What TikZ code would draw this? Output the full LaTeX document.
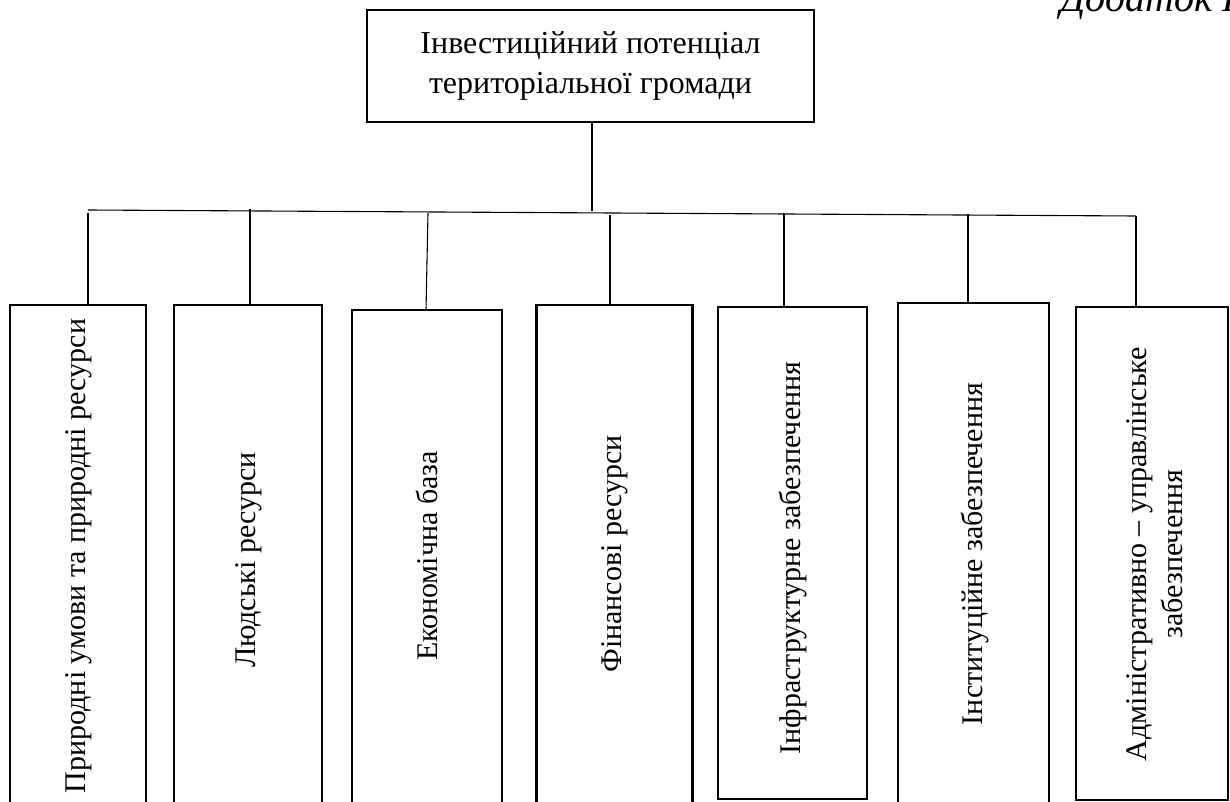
\documentclass[tikz,border=0pt]{standalone}
\usepackage{fontspec}
\setmainfont{Liberation Serif}
\usetikzlibrary{calc}
\begin{document}
\begin{tikzpicture}[x=1pt,y=-1pt,
  box/.style={draw, line width=2.2pt, inner sep=0pt},
  conn/.style={line width=1.1pt},
  vlabel/.style={rotate=90, inner sep=0pt, align=center, font=\fontsize{30}{36}\selectfont}]
\useasboundingbox (0,0) rectangle (1230,802);

% top box
\node[box, minimum width=447pt, minimum height=112pt, align=center,
      font=\fontsize{32}{40}\selectfont] (top) at (590.5,66)
      {Інвестиційний потенціал\\територіальної громади};

% appendix caption (cut by the top edge, as in the source)
\node[anchor=base west, inner sep=0pt, font=\fontsize{40}{44}\selectfont\itshape] (app) at (1060,12) {Додаток Б};

% bottom boxes
\node[box, minimum width=136pt, minimum height=525pt] (b1) at (78,567.5) {};
\node[box, minimum width=148pt, minimum height=525pt] (b2) at (248,567.5) {};
\node[box, minimum width=150pt, minimum height=520pt] (b3) at (427,570) {};
\node[box, minimum width=156pt, minimum height=525pt] (b4) at (614.5,567.5) {};
\node[box, minimum width=149pt, minimum height=492pt] (b5) at (792.5,553) {};
\node[box, minimum width=151pt, minimum height=527pt] (b6) at (973.5,566.5) {};
\node[box, minimum width=152pt, minimum height=493pt] (b7) at (1152,553.5) {};

% labels
\node[vlabel] (l1) at (79,556) {Природні умови та природні ресурси};
\node[vlabel] (l2) at (249,560) {Людські ресурси};
\node[vlabel] (l3) at (427,556) {Економічна база};
\node[vlabel] (l4) at (615,554) {Фінансові ресурси};
\node[vlabel] (l5) at (793,558) {Інфраструктурне забезпечення};
\node[vlabel] (l6) at (975,554) {Інституційне забезпечення};
\node[vlabel] (l7) at (1155,554) {Адміністративно – управлінське\\забезпечення};

% connectors
\coordinate (stem) at (592,211);
\coordinate (busL) at (88,210);
\coordinate (busR) at (1136,216);
\draw[conn] (top.south -| stem) -- (stem);
\draw[conn] (busL) -- (busR);

\coordinate (d1) at (88,213);
\coordinate (d2) at (250,209);
\coordinate (d3) at (428,213);
\coordinate (d3b) at (426,310);
\coordinate (d4) at (610,215);
\coordinate (d5) at (784,213);
\coordinate (d6) at (968,214);
\coordinate (d7) at (1136,216);
\draw[conn] (d1) -- (d1 |- b1.north);
\draw[conn] (d2) -- (d2 |- b2.north);
\draw[conn] (d3) -- (d3b);
\draw[conn] (d4) -- (d4 |- b4.north);
\draw[conn] (d5) -- (d5 |- b5.north);
\draw[conn] (d6) -- (d6 |- b6.north);
\draw[conn] (d7) -- (d7 |- b7.north);
\end{tikzpicture}
\end{document}
